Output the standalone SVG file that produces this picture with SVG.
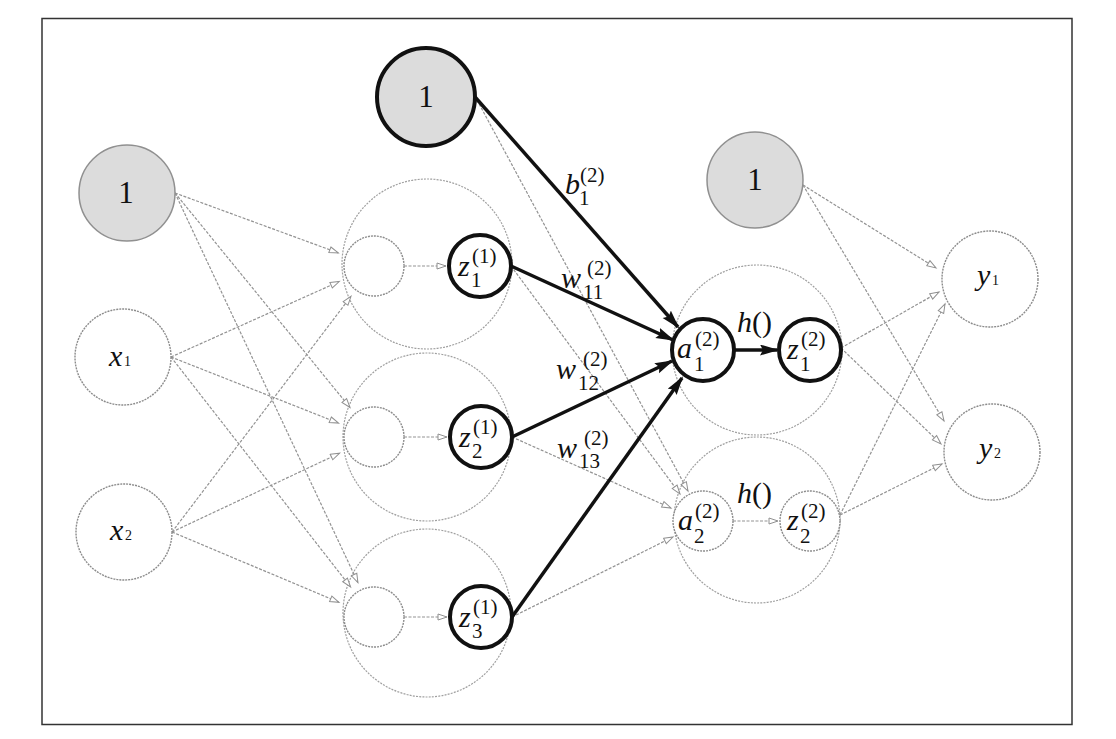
<svg xmlns="http://www.w3.org/2000/svg" width="1116" height="739" viewBox="0 0 1116 739">
<defs>
<marker id="ab" markerUnits="userSpaceOnUse" markerWidth="20" markerHeight="12" refX="17" refY="5.5" orient="auto">
<path d="M0,0 L19,5.5 L0,11 L3,5.5 z" fill="#111"/>
</marker>
<marker id="ag" markerUnits="userSpaceOnUse" markerWidth="12" markerHeight="9" refX="10" refY="4" orient="auto">
<path d="M1,1 L10,4 L1,7 z" fill="#fff" stroke="#909090" stroke-width="1"/>
</marker>
</defs>
<style>
.frame{fill:none;stroke:#333;stroke-width:1.5}
.thin{fill:#fff;stroke:#8c8c8c;stroke-width:1.4;stroke-dasharray:2 1}
.big{fill:none;stroke:#a0a0a0;stroke-width:1.2;stroke-dasharray:2 1.2}
.bias{fill:#dcdcdc;stroke:#909090;stroke-width:1.5}
.biasb{fill:#dcdcdc;stroke:#111;stroke-width:4}
.bold{fill:#fff;stroke:#111;stroke-width:4}
.e{fill:none;stroke:#939393;stroke-width:1.2;stroke-dasharray:3 1.5;marker-end:url(#ag)}
.eb{fill:none;stroke:#111;stroke-width:3.5;marker-end:url(#ab)}
text{font-family:"Liberation Serif","DejaVu Serif",serif;fill:#111}
.it{font-style:italic}
.m{font-size:30px}
.s{font-size:21px}
.xs{font-size:14px}
.one{font-size:31px;text-anchor:middle}
</style>
<rect class="frame" x="42" y="18.5" width="1030" height="706"/>

<g id="hidden-groups">
<circle class="big" cx="427" cy="264" r="85"/>
<circle class="big" cx="427" cy="437" r="84"/>
<circle class="big" cx="427" cy="613" r="84"/>
<circle class="big" cx="757" cy="350" r="85"/>
<circle class="big" cx="757" cy="520" r="83"/>
</g>

<g id="connectors">
<line class="e" x1="175" y1="193" x2="338.3" y2="252.9"/>
<line class="e" x1="175" y1="193" x2="350" y2="407.5"/>
<line class="e" x1="175" y1="193" x2="357.9" y2="582.6"/>
<line class="e" x1="171" y1="357" x2="339.3" y2="281.5"/>
<line class="e" x1="171" y1="357" x2="338.6" y2="423.1"/>
<line class="e" x1="171" y1="357" x2="350.6" y2="587"/>
<line class="e" x1="172" y1="532" x2="351" y2="296.3"/>
<line class="e" x1="172" y1="532" x2="339.6" y2="453.2"/>
<line class="e" x1="172" y1="532" x2="339" y2="602.3"/>
<line class="e" x1="404" y1="266" x2="446" y2="266"/>
<line class="e" x1="404" y1="437" x2="447" y2="437"/>
<line class="e" x1="404" y1="617" x2="447" y2="617"/>
<line class="e" x1="477" y1="100" x2="688" y2="491"/>
<line class="e" x1="511" y1="266" x2="680" y2="494"/>
<line class="e" x1="512" y1="437" x2="671" y2="508"/>
<line class="e" x1="512" y1="617" x2="673" y2="537"/>
<line class="eb" x1="475" y1="97" x2="678" y2="327"/>
<line class="eb" x1="511" y1="266" x2="673" y2="340"/>
<line class="eb" x1="512" y1="437" x2="672" y2="361"/>
<line class="eb" x1="512" y1="617" x2="682" y2="378"/>
<line class="eb" x1="734" y1="350" x2="777" y2="350"/>
<line class="e" x1="733" y1="521" x2="778" y2="521"/>
<line class="e" x1="803" y1="185" x2="936" y2="268"/>
<line class="e" x1="841" y1="348" x2="939" y2="292"/>
<line class="e" x1="840" y1="515" x2="945" y2="304"/>
<line class="e" x1="803" y1="185" x2="944" y2="421"/>
<line class="e" x1="841" y1="348" x2="941" y2="444"/>
<line class="e" x1="840" y1="515" x2="942" y2="464"/>
</g>

<g id="edge-labels">
<text class="m"><tspan class="it" x="565" y="194">b</tspan><tspan class="s" x="580" y="182">(2)</tspan><tspan class="s" x="579" y="205">1</tspan></text>
<text class="m"><tspan class="it" x="561" y="288">w</tspan><tspan class="s" x="587" y="275">(2)</tspan><tspan class="s" x="583" y="299">11</tspan></text>
<text class="m"><tspan class="it" x="556" y="379">w</tspan><tspan class="s" x="583" y="366">(2)</tspan><tspan class="s" x="578" y="390">12</tspan></text>
<text class="m"><tspan class="it" x="557" y="458">w</tspan><tspan class="s" x="584" y="445">(2)</tspan><tspan class="s" x="579" y="468">13</tspan></text>
<text class="m" x="737" y="332"><tspan class="it">h</tspan>()</text>
<text class="m" x="737" y="503"><tspan class="it">h</tspan>()</text>
</g>

<g id="node-bias0"><circle class="bias" cx="127" cy="193" r="48"/><text class="one" x="126" y="203">1</text></g>
<g id="node-x1"><circle class="thin" cx="123" cy="357" r="48"/><text class="m"><tspan class="it" x="109" y="366">x</tspan><tspan class="xs" x="124" y="366">1</tspan></text></g>
<g id="node-x2"><circle class="thin" cx="124" cy="532" r="48"/><text class="m"><tspan class="it" x="110" y="540">x</tspan><tspan class="xs" x="125" y="540">2</tspan></text></g>

<g id="node-s1"><circle class="thin" cx="374" cy="266" r="30"/></g>
<g id="node-s2"><circle class="thin" cx="374" cy="437" r="30"/></g>
<g id="node-s3"><circle class="thin" cx="374" cy="617" r="30"/></g>

<g id="node-z1"><circle class="bold" cx="480" cy="266" r="31"/><text class="m"><tspan class="it" x="458" y="276">z</tspan><tspan class="s" x="472" y="263">(1)</tspan><tspan class="s" x="471" y="287">1</tspan></text></g>
<g id="node-z2"><circle class="bold" cx="481" cy="437" r="31"/><text class="m"><tspan class="it" x="459" y="447">z</tspan><tspan class="s" x="473" y="434">(1)</tspan><tspan class="s" x="472" y="458">2</tspan></text></g>
<g id="node-z3"><circle class="bold" cx="481" cy="617" r="31"/><text class="m"><tspan class="it" x="459" y="627">z</tspan><tspan class="s" x="473" y="614">(1)</tspan><tspan class="s" x="472" y="638">3</tspan></text></g>

<g id="node-bias1"><circle class="biasb" cx="426" cy="97" r="49"/><text class="one" x="426" y="107">1</text></g>

<g id="node-a1"><circle class="bold" cx="703" cy="350" r="31"/><text class="m"><tspan class="it" x="677" y="358">a</tspan><tspan class="s" x="695" y="346">(2)</tspan><tspan class="s" x="694" y="371">1</tspan></text></g>
<g id="node-zb1"><circle class="bold" cx="810" cy="350" r="31"/><text class="m"><tspan class="it" x="787" y="359">z</tspan><tspan class="s" x="801" y="346">(2)</tspan><tspan class="s" x="800" y="371">1</tspan></text></g>
<g id="node-a2"><circle class="thin" cx="703" cy="521" r="30"/><text class="m"><tspan class="it" x="678" y="530">a</tspan><tspan class="s" x="695" y="518">(2)</tspan><tspan class="s" x="694" y="543">2</tspan></text></g>
<g id="node-zb2"><circle class="thin" cx="810" cy="521" r="30"/><text class="m"><tspan class="it" x="787" y="530">z</tspan><tspan class="s" x="801" y="518">(2)</tspan><tspan class="s" x="800" y="543">2</tspan></text></g>

<g id="node-bias2"><circle class="bias" cx="755" cy="180" r="48"/><text class="one" x="755" y="190">1</text></g>
<g id="node-y1"><circle class="thin" cx="990" cy="279" r="48"/><text class="m"><tspan class="it" x="977" y="285">y</tspan><tspan class="xs" x="992" y="285">1</tspan></text></g>
<g id="node-y2"><circle class="thin" cx="992" cy="452" r="48"/><text class="m"><tspan class="it" x="979" y="458">y</tspan><tspan class="xs" x="994" y="458">2</tspan></text></g>
</svg>
